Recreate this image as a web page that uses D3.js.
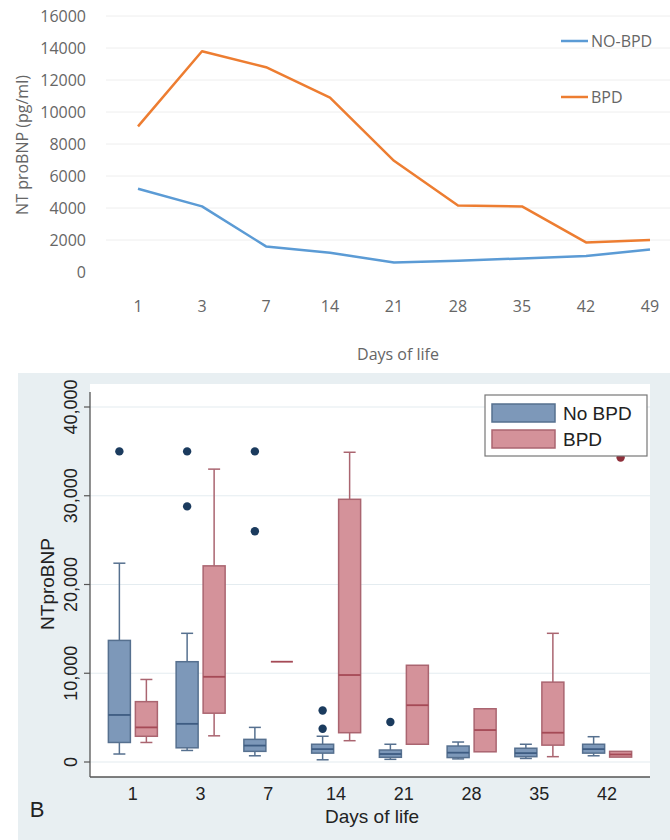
<!DOCTYPE html>
<html>
<head>
<meta charset="utf-8">
<script src="https://cdn.jsdelivr.net/npm/d3@7"></script>
<style>
  html, body { margin: 0; padding: 0; background: #fff; }
</style>
</head>
<body>
<div id="canvas"></div>
<script>
// panel A: mean NT proBNP by day
const lineDays = ["1", "3", "7", "14", "21", "28", "35", "42", "49"];
const noBpdMean = [5200, 4100, 1600, 1200, 600, 700, 850, 1000, 1400];
const bpdMean = [9100, 13800, 12800, 10900, 6950, 4150, 4100, 1850, 2000];
const lineNames = ["NO-BPD", "BPD"];

// panel B: box plots
const boxDays = ["1", "3", "7", "14", "21", "28", "35", "42"];
const groups = ["No BPD", "BPD"];
const noBpdLow = [900, 1300, 700, 250, 300, 350, 400, 700];
const noBpdQ1 = [2200, 1600, 1200, 1000, 530, 500, 600, 1000];
const noBpdMed = [5300, 4300, 1850, 1450, 900, 1050, 1000, 1450];
const noBpdQ3 = [13700, 11300, 2550, 2000, 1350, 1800, 1550, 2000];
const noBpdHigh = [22400, 14500, 3900, 2900, 2000, 2250, 2000, 2850];
const noBpdOut = [[35000], [35000, 28800], [35000, 26000], [5800, 3750], [4500], [], [], []];
const bpdLow = [2200, 2950, 11300, 2400, 2000, 1150, 600, 550];
const bpdQ1 = [2900, 5500, 11300, 3300, 2000, 1150, 1900, 550];
const bpdMed = [3900, 9600, 11300, 9800, 6400, 3600, 3300, 850];
const bpdQ3 = [6800, 22100, 11300, 29600, 10900, 6000, 9000, 1200];
const bpdHigh = [9300, 33000, 11300, 34900, 10900, 6000, 14500, 1200];
const bpdOut = [[], [], [], [], [], [], [], [34300]];

const canvas = d3.select("#canvas");
const svg = canvas.append("svg").attr("width", 670).attr("height", 840);
svg.append("rect").attr("width", 670).attr("height", 840).attr("fill", "#fff");

// ---------- top chart ----------
const topFont = "'Open Sans', 'Noto Sans', sans-serif";
const xTop = d3.scalePoint().domain(lineDays).range([138, 650]);
const yTop = d3.scaleLinear().domain([0, 16000]).range([272, 16]);

const topG = svg.append("g");

topG.selectAll("line.grid")
  .data(yTop.ticks(8).filter((t) => t > 0))
  .enter()
  .append("line")
  .attr("x1", 106)
  .attr("x2", 670)
  .attr("y1", (d) => yTop(d))
  .attr("y2", (d) => yTop(d))
  .attr("stroke", "#eeeeee")
  .attr("stroke-width", 1);

topG.selectAll("text.ytick")
  .data(yTop.ticks(8))
  .enter()
  .append("text")
  .attr("x", 86)
  .attr("y", (d) => yTop(d))
  .attr("text-anchor", "end")
  .attr("dominant-baseline", "central")
  .style("font-family", topFont)
  .style("font-size", "16px")
  .attr("fill", "#666")
  .text((d) => d);

topG.selectAll("text.xtick")
  .data(lineDays)
  .enter()
  .append("text")
  .attr("x", (d) => xTop(d))
  .attr("y", 306)
  .attr("text-anchor", "middle")
  .attr("dominant-baseline", "central")
  .style("font-family", topFont)
  .style("font-size", "16px")
  .attr("fill", "#666")
  .text((d) => d);

topG.append("text")
  .attr("transform", "translate(22,145) rotate(-90)")
  .attr("text-anchor", "middle")
  .attr("dominant-baseline", "central")
  .style("font-family", topFont)
  .style("font-size", "16px")
  .attr("fill", "#666")
  .text("NT proBNP (pg/ml)");

topG.append("text")
  .attr("x", 398)
  .attr("y", 354)
  .attr("text-anchor", "middle")
  .attr("dominant-baseline", "central")
  .style("font-family", topFont)
  .style("font-size", "16px")
  .attr("fill", "#666")
  .text("Days of life");

const lineColors = ["#5b9bd5", "#ed7d31"];
const lineSeries = [noBpdMean, bpdMean];
const line = d3.line()
  .x((d, i) => xTop(lineDays[i]))
  .y((d) => yTop(d));

lineSeries.forEach((s, k) => {
  topG.append("path")
    .datum(s)
    .attr("d", line)
    .attr("fill", "none")
    .attr("stroke", lineColors[k])
    .attr("stroke-width", 2.5)
    .attr("stroke-linejoin", "round");

  const ly = 41 + k * 56;
  topG.append("line")
    .attr("x1", 561).attr("x2", 588)
    .attr("y1", ly).attr("y2", ly)
    .attr("stroke", lineColors[k])
    .attr("stroke-width", 2.5);
  topG.append("text")
    .attr("x", 591)
    .attr("y", ly)
    .attr("dominant-baseline", "central")
    .style("font-family", topFont)
    .style("font-size", "16px")
    .attr("fill", "#666")
    .text(lineNames[k]);
});

// ---------- bottom chart ----------
const bFont = "'Liberation Sans', Arial, sans-serif";
const bottomG = svg.append("g");

bottomG.append("rect")
  .attr("x", 18).attr("y", 373)
  .attr("width", 652).attr("height", 467)
  .attr("fill", "#e8eff2");

bottomG.append("rect")
  .attr("x", 90).attr("y", 384)
  .attr("width", 560).attr("height", 393)
  .attr("fill", "#fff");

const xB = d3.scaleBand().domain(boxDays).range([99, 641]);
const xSub = d3.scaleBand().domain(groups).range([-24.5, 24.5]).paddingInner(0.185);
const yB = d3.scaleLinear().domain([0, 40000]).range([762, 407]);
const yTicksB = [0, 10000, 20000, 30000, 40000];

bottomG.selectAll("line.bgrid")
  .data(yTicksB)
  .enter()
  .append("line")
  .attr("x1", 90).attr("x2", 650)
  .attr("y1", (d) => yB(d)).attr("y2", (d) => yB(d))
  .attr("stroke", "#e4ecf0")
  .attr("stroke-width", 1.2);

// axes
bottomG.append("line")
  .attr("x1", 90).attr("x2", 90)
  .attr("y1", 392).attr("y2", 777)
  .attr("stroke", "#555").attr("stroke-width", 1.3);
bottomG.append("line")
  .attr("x1", 90).attr("x2", 650)
  .attr("y1", 777).attr("y2", 777)
  .attr("stroke", "#555").attr("stroke-width", 1.3);

bottomG.selectAll("line.ytickB")
  .data(yTicksB)
  .enter()
  .append("line")
  .attr("x1", 84).attr("x2", 90)
  .attr("y1", (d) => yB(d)).attr("y2", (d) => yB(d))
  .attr("stroke", "#555").attr("stroke-width", 1.2);

bottomG.selectAll("text.ytickB")
  .data(yTicksB)
  .enter()
  .append("text")
  .attr("transform", (d) => `translate(71,${yB(d)}) rotate(-90)`)
  .attr("text-anchor", "middle")
  .attr("dominant-baseline", "central")
  .style("font-family", bFont)
  .style("font-size", "18px")
  .attr("fill", "#222")
  .text((d) => d3.format(",")(d));

bottomG.selectAll("text.xtickB")
  .data(boxDays)
  .enter()
  .append("text")
  .attr("x", (d) => xB(d) + xB.bandwidth() / 2)
  .attr("y", 794)
  .attr("text-anchor", "middle")
  .attr("dominant-baseline", "central")
  .style("font-family", bFont)
  .style("font-size", "18px")
  .attr("fill", "#222")
  .text((d) => d);

bottomG.append("text")
  .attr("transform", "translate(47,584) rotate(-90)")
  .attr("text-anchor", "middle")
  .attr("dominant-baseline", "central")
  .style("font-family", bFont)
  .style("font-size", "19px")
  .attr("fill", "#222")
  .text("NTproBNP");

bottomG.append("text")
  .attr("x", 372)
  .attr("y", 816)
  .attr("text-anchor", "middle")
  .attr("dominant-baseline", "central")
  .style("font-family", bFont)
  .style("font-size", "19px")
  .attr("fill", "#222")
  .text("Days of life");

bottomG.append("text")
  .attr("x", 37)
  .attr("y", 809)
  .attr("text-anchor", "middle")
  .attr("dominant-baseline", "central")
  .style("font-family", bFont)
  .style("font-size", "22px")
  .attr("fill", "#222")
  .text("B");

const boxStyle = {
  "No BPD": { fill: "#7d98b9", stroke: "#56708f", median: "#3e5c82", dot: "#1b3b5e" },
  "BPD": { fill: "#d4929a", stroke: "#aa6570", median: "#a54a56", dot: "#8e2f3a" },
};

const boxData = [];
boxDays.forEach((day, i) => {
  boxData.push({ day, group: "No BPD", low: noBpdLow[i], q1: noBpdQ1[i], med: noBpdMed[i], q3: noBpdQ3[i], high: noBpdHigh[i], out: noBpdOut[i] });
  boxData.push({ day, group: "BPD", low: bpdLow[i], q1: bpdQ1[i], med: bpdMed[i], q3: bpdQ3[i], high: bpdHigh[i], out: bpdOut[i] });
});

const boxes = bottomG.selectAll("g.box")
  .data(boxData)
  .enter()
  .append("g")
  .attr("transform", (d) => `translate(${xB(d.day) + xB.bandwidth() / 2 + xSub(d.group)},0)`);

const bw = xSub.bandwidth();
const capW = 12;

// whiskers
boxes.filter((d) => d.high > d.q3).append("line")
  .attr("x1", bw / 2).attr("x2", bw / 2)
  .attr("y1", (d) => yB(d.q3)).attr("y2", (d) => yB(d.high))
  .attr("stroke", (d) => boxStyle[d.group].stroke).attr("stroke-width", 1.5);
boxes.filter((d) => d.high > d.q3).append("line")
  .attr("x1", bw / 2 - capW / 2).attr("x2", bw / 2 + capW / 2)
  .attr("y1", (d) => yB(d.high)).attr("y2", (d) => yB(d.high))
  .attr("stroke", (d) => boxStyle[d.group].stroke).attr("stroke-width", 1.5);
boxes.filter((d) => d.low < d.q1).append("line")
  .attr("x1", bw / 2).attr("x2", bw / 2)
  .attr("y1", (d) => yB(d.q1)).attr("y2", (d) => yB(d.low))
  .attr("stroke", (d) => boxStyle[d.group].stroke).attr("stroke-width", 1.5);
boxes.filter((d) => d.low < d.q1).append("line")
  .attr("x1", bw / 2 - capW / 2).attr("x2", bw / 2 + capW / 2)
  .attr("y1", (d) => yB(d.low)).attr("y2", (d) => yB(d.low))
  .attr("stroke", (d) => boxStyle[d.group].stroke).attr("stroke-width", 1.5);

// boxes
boxes.append("rect")
  .attr("x", 0)
  .attr("width", bw)
  .attr("y", (d) => yB(d.q3))
  .attr("height", (d) => yB(d.q1) - yB(d.q3))
  .attr("fill", (d) => boxStyle[d.group].fill)
  .attr("stroke", (d) => boxStyle[d.group].stroke)
  .attr("stroke-width", 1.5);

boxes.append("line")
  .attr("x1", 0).attr("x2", bw)
  .attr("y1", (d) => yB(d.med)).attr("y2", (d) => yB(d.med))
  .attr("stroke", (d) => boxStyle[d.group].median)
  .attr("stroke-width", 1.8);

// outliers
boxes.each(function (d) {
  d3.select(this).selectAll("circle")
    .data(d.out)
    .enter()
    .append("circle")
    .attr("cx", bw / 2)
    .attr("cy", (v) => yB(v))
    .attr("r", 4.2)
    .attr("fill", boxStyle[d.group].dot);
});

// legend
const leg = bottomG.append("g").attr("transform", "translate(485,395)");
leg.append("rect")
  .attr("width", 162).attr("height", 61)
  .attr("fill", "#fff")
  .attr("stroke", "#777").attr("stroke-width", 1.2);
groups.forEach((g, k) => {
  leg.append("rect")
    .attr("x", 7).attr("y", 9 + k * 26)
    .attr("width", 63).attr("height", 18)
    .attr("fill", boxStyle[g].fill)
    .attr("stroke", boxStyle[g].stroke)
    .attr("stroke-width", 1.5);
  leg.append("text")
    .attr("x", 78).attr("y", 18 + k * 26)
    .attr("dominant-baseline", "central")
    .style("font-family", bFont)
    .style("font-size", "19px")
    .attr("fill", "#222")
    .text(g);
});
</script>
</body>
</html>
